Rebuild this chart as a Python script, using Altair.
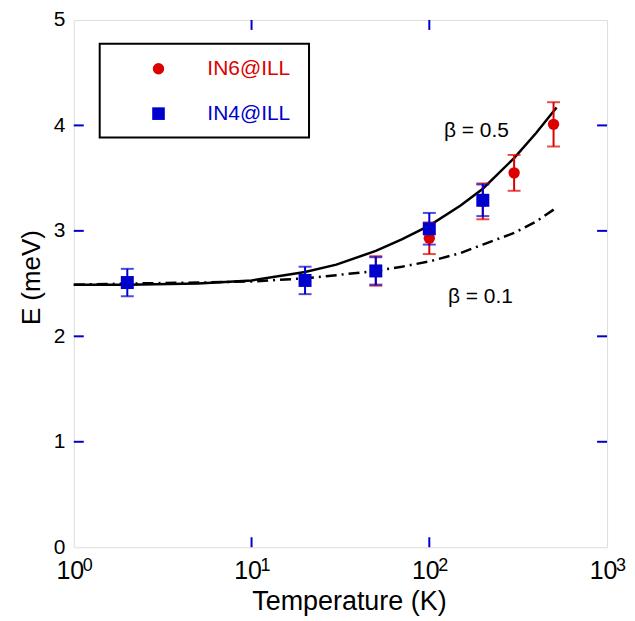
import altair as alt
import pandas as pd

# ---- data ----
in6_T = [50, 100, 200, 300, 500]
in6_E = [2.62, 2.93, 3.28, 3.55, 4.01]
in6_err = [0.14, 0.15, 0.17, 0.17, 0.21]

in4_T = [2, 20, 50, 100, 200]
in4_E = [2.51, 2.53, 2.62, 3.02, 3.29]
in4_err = [0.13, 0.13, 0.13, 0.15, 0.15]

curve_T = [1, 2, 5, 10, 20, 30, 50, 70, 100, 150, 200, 300, 400, 520]
beta05_E = [2.49, 2.49, 2.50, 2.53, 2.61, 2.68, 2.81, 2.92, 3.05, 3.24, 3.40, 3.69, 3.93, 4.17]
beta01_E = [2.49, 2.50, 2.51, 2.52, 2.55, 2.58, 2.62, 2.66, 2.71, 2.79, 2.87, 2.98, 3.09, 3.22]

x_label_values = [1, 10, 100, 1000]
x_label_exponents = ["0", "1", "2", "3"]
x_ticks = [10, 100]
y_ticks = [1, 2, 3, 4]
legend_labels = ["IN6@ILL", "IN4@ILL"]
annot_text = ["β = 0.5", "β = 0.1"]
annot_T = [184, 194]
annot_E = [3.95, 2.37]

TOP = 11
W, H = 535, 529
BLUE = "#0000cc"
RED = "#dd0000"
FONT = "Liberation Sans"

xs = alt.Scale(type="log", domain=[1, 1000], nice=False)
ys = alt.Scale(domain=[0, 5], nice=False)

xaxis = alt.Axis(values=x_label_values, labelExpr="'10'", ticks=False, domain=False,
                 grid=False, labelFontSize=25, labelFont=FONT, labelColor="black", labelPadding=11,
                 labelOffset=-4,
                 title="Temperature (K)", titleFontSize=27, titleFont=FONT, titleFontWeight="normal",
                 titleColor="black", titleX=276, titleY=62, titleBaseline="alphabetic",
                 titleAlign="center", labelFlush=False)
yaxis = alt.Axis(values=[0, 1, 2, 3, 4, 5], format="d", ticks=False, domain=False, grid=False,
                 labelFontSize=21, labelFont=FONT, labelColor="black", labelPadding=9,
                 title="E (meV)", titleFontSize=26, titleFont=FONT, titleFontWeight="normal",
                 titleColor="black", titleX=-42, titleY=258, titleBaseline="middle",
                 titleAlign="center", labelFlush=False)

curves = pd.DataFrame({
    "T": curve_T * 2,
    "E": beta05_E + beta01_E,
    "beta": ["0.5"] * len(curve_T) + ["0.1"] * len(curve_T),
})

solid = alt.Chart(curves[curves.beta == "0.5"]).mark_line(color="black", strokeWidth=2.5).encode(
    x=alt.X("T:Q", scale=xs, axis=xaxis), y=alt.Y("E:Q", scale=ys, axis=yaxis))
dashdot = alt.Chart(curves[curves.beta == "0.1"]).mark_line(
    color="black", strokeWidth=2.5, strokeDash=[11, 5, 2, 5]).encode(
    x=alt.X("T:Q", scale=xs), y=alt.Y("E:Q", scale=ys))

in6 = pd.DataFrame({"T": in6_T, "E": in6_E, "lo": [e - d for e, d in zip(in6_E, in6_err)],
                    "hi": [e + d for e, d in zip(in6_E, in6_err)]})
in4 = pd.DataFrame({"T": in4_T, "E": in4_E, "lo": [e - d for e, d in zip(in4_E, in4_err)],
                    "hi": [e + d for e, d in zip(in4_E, in4_err)]})


def err_layers(df, color):
    bar = alt.Chart(df).mark_rule(color=color, strokeWidth=2).encode(
        x=alt.X("T:Q", scale=xs), y=alt.Y("lo:Q", scale=ys), y2="hi:Q")
    cap_lo = alt.Chart(df).mark_tick(color=color, thickness=2, size=13, orient="horizontal").encode(
        x=alt.X("T:Q", scale=xs), y=alt.Y("lo:Q", scale=ys))
    cap_hi = alt.Chart(df).mark_tick(color=color, thickness=2, size=13, orient="horizontal").encode(
        x=alt.X("T:Q", scale=xs), y=alt.Y("hi:Q", scale=ys))
    return [bar, cap_lo, cap_hi]


in6_pts = alt.Chart(in6).mark_point(shape="circle", filled=True, opacity=1, color=RED, size=130).encode(
    x=alt.X("T:Q", scale=xs), y=alt.Y("E:Q", scale=ys))
in4_pts = alt.Chart(in4).mark_point(shape="square", filled=True, opacity=1, color=BLUE, size=170).encode(
    x=alt.X("T:Q", scale=xs), y=alt.Y("E:Q", scale=ys))

# superscript exponents for the x tick labels
sup_df = pd.DataFrame({"v": x_label_values, "e": x_label_exponents})
sup_txt = alt.Chart(sup_df).mark_text(fontSize=18, font=FONT, color="black", align="left",
                                      baseline="alphabetic", dx=9).encode(
    x=alt.X("v:Q", scale=xs), y=alt.value(H + 24), text="e:N")

# inner ticks
xt = pd.DataFrame({"v": x_ticks})
yt = pd.DataFrame({"v": y_ticks})
tick_b = alt.Chart(xt).mark_rule(color=BLUE, strokeWidth=2).encode(
    x=alt.X("v:Q", scale=xs), y=alt.value(H), y2=alt.value(H - 10))
tick_t = alt.Chart(xt).mark_rule(color=BLUE, strokeWidth=2).encode(
    x=alt.X("v:Q", scale=xs), y=alt.value(0), y2=alt.value(10))
tick_l = alt.Chart(yt).mark_rule(color=BLUE, strokeWidth=2).encode(
    y=alt.Y("v:Q", scale=ys), x=alt.value(0), x2=alt.value(10))
tick_r = alt.Chart(yt).mark_rule(color=BLUE, strokeWidth=2).encode(
    y=alt.Y("v:Q", scale=ys), x=alt.value(W), x2=alt.value(W - 10))

# annotations
ann = pd.DataFrame({"T": annot_T, "E": annot_E, "t": annot_text})
ann_txt = alt.Chart(ann).mark_text(fontSize=21, font=FONT, color="black").encode(
    x=alt.X("T:Q", scale=xs), y=alt.Y("E:Q", scale=ys), text="t:N")

# legend box (manual)
leg_box = alt.Chart(pd.DataFrame({"a": [0]})).mark_rect(
    fill="white", stroke="black", strokeWidth=2).encode(
    x=alt.value(26), x2=alt.value(236), y=alt.value(24), y2=alt.value(118))
leg_c = alt.Chart(pd.DataFrame({"a": [0]})).mark_point(
    shape="circle", filled=True, opacity=1, color=RED, size=130).encode(
    x=alt.value(85), y=alt.value(49))
leg_s = alt.Chart(pd.DataFrame({"a": [0]})).mark_point(
    shape="square", filled=True, opacity=1, color=BLUE, size=160).encode(
    x=alt.value(85), y=alt.value(94))
leg_t1 = alt.Chart(pd.DataFrame({"t": [legend_labels[0]]})).mark_text(
    fontSize=21, font=FONT, color=RED, align="left").encode(
    x=alt.value(134), y=alt.value(49), text="t:N")
leg_t2 = alt.Chart(pd.DataFrame({"t": [legend_labels[1]]})).mark_text(
    fontSize=21, font=FONT, color=BLUE, align="left").encode(
    x=alt.value(134), y=alt.value(94), text="t:N")

layers = [solid, dashdot] + err_layers(in6, RED) + err_layers(in4, BLUE) + [
    in6_pts, in4_pts, sup_txt, tick_b, tick_t, tick_l, tick_r, ann_txt,
    leg_box, leg_c, leg_s, leg_t1, leg_t2]

chart = alt.layer(*layers).properties(
    width=W, height=H,
    autosize=alt.AutoSizeParams(type="none"),
    padding={"left": 66, "top": TOP, "right": 20, "bottom": 70},
).configure_view(stroke=BLUE, strokeWidth=2).configure(background="white")

chart.save("out.html", embed_options={"renderer": "svg", "actions": False})
